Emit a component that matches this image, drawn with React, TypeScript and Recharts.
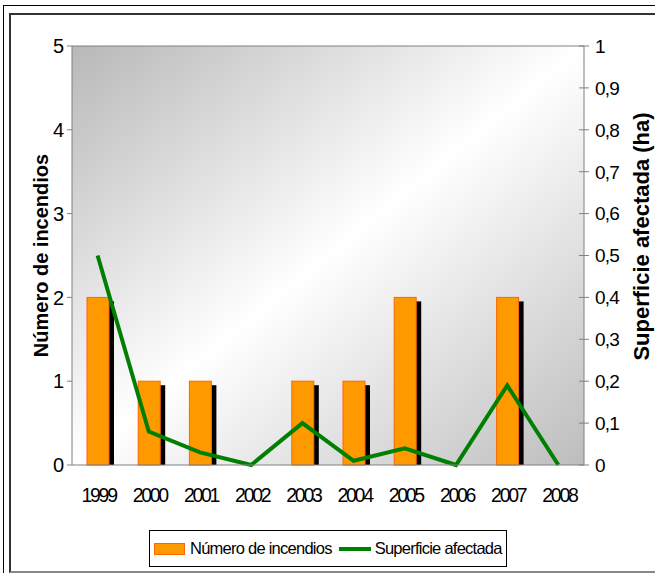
import React from 'react';
import {
  ComposedChart,
  Bar,
  Line,
  XAxis,
  YAxis,
  CartesianGrid,
  Legend,
  ReferenceLine,
} from 'recharts';

const years = ['1999', '2000', '2001', '2002', '2003', '2004', '2005', '2006', '2007', '2008'];
const numeroIncendios = [2, 1, 1, 0, 1, 1, 2, 0, 2, 0];
const superficieAfectada = [0.5, 0.08, 0.03, 0, 0.1, 0.01, 0.04, 0, 0.19, 0];
const leftTicks = [0, 1, 2, 3, 4, 5];
const rightTicks = [0, 0.1, 0.2, 0.3, 0.4, 0.5, 0.6, 0.7, 0.8, 0.9, 1];
const boundaryTicks = years.map((_, i) => i).concat(years.length);

const data = years.map((year, i) => ({
  year,
  numero: numeroIncendios[i],
  superficie: superficieAfectada[i],
}));

const FONT = '"Liberation Sans", Arial, sans-serif';
const AXIS_GRAY = '#808080';

const LeftTick = (props: any) => {
  const { x, y, payload } = props;
  return (
    <text x={x} y={y} dy="0.36em" textAnchor="end" fontSize={20} fontFamily={FONT} fill="#000">
      {payload.value}
    </text>
  );
};

const RightTick = (props: any) => {
  const { x, y, payload } = props;
  const label = String(payload.value).replace('.', ',');
  return (
    <g>
      <line x1={x - 5} x2={x + 5} y1={y} y2={y} stroke={AXIS_GRAY} strokeWidth={1} />
      <text x={x + 11} y={y} dy="0.36em" textAnchor="start" fontSize={19} letterSpacing={-0.8} fontFamily={FONT} fill="#000">
        {label}
      </text>
    </g>
  );
};

const YearTick = (props: any) => {
  const { x, y, payload } = props;
  return (
    <text x={x + 1} y={y + 37} textAnchor="middle" fontSize={19.5} letterSpacing={-2.3} fontFamily={FONT} fill="#000">
      {payload.value}
    </text>
  );
};

const BoundaryTick = (props: any) => {
  const { x, y } = props;
  return <line x1={x} x2={x} y1={y - 5} y2={y + 5} stroke={AXIS_GRAY} strokeWidth={1} />;
};

const ShadowBar = (props: any) => {
  const { x, y, width, height } = props;
  if (!height || height <= 0) return null;
  return (
    <g>
      <rect x={x + 5} y={y + 4} width={width} height={Math.max(0, height - 4)} fill="#000" />
      <rect x={x} y={y} width={width} height={height} fill="#ff9900" stroke="#ff6600" strokeWidth={1} />
    </g>
  );
};

const LeftLabel = (props: any) => {
  const vb = props.viewBox || {};
  const cx = vb.x + 41;
  const cy = vb.y + vb.height / 2;
  return (
    <text
      x={cx}
      y={cy}
      transform={`rotate(-90, ${cx}, ${cy})`}
      textAnchor="middle"
      dy="0.36em"
      fontSize={20}
      fontWeight="bold"
      fontFamily={FONT}
      fill="#000"
    >
      Número de incendios
    </text>
  );
};

const RightLabel = (props: any) => {
  const vb = props.viewBox || {};
  const cx = vb.x + 57;
  const cy = vb.y + vb.height / 2 - 19;
  return (
    <text
      x={cx}
      y={cy}
      transform={`rotate(-90, ${cx}, ${cy})`}
      textAnchor="middle"
      dy="0.36em"
      fontSize={22}
      fontWeight="bold"
      fontFamily={FONT}
      fill="#000"
    >
      Superficie afectada (ha)
    </text>
  );
};

const LegendContent = (props: any) => {
  const payload = props.payload || [];
  return (
    <div
      style={{
        display: 'flex',
        alignItems: 'center',
        height: '100%',
        paddingLeft: 4,
        fontFamily: FONT,
        fontSize: 16.5,
        letterSpacing: -0.75,
        color: '#000',
        whiteSpace: 'nowrap',
      }}
    >
      {payload.map((entry: any, i: number) => (
        <div key={i} style={{ display: 'flex', alignItems: 'center', marginRight: 7 }}>
          {entry.type === 'rect' ? (
            <span
              style={{
                display: 'inline-block',
                width: 29,
                height: 10,
                background: '#ff9900',
                border: '1px solid #ff6600',
                marginRight: 5,
              }}
            />
          ) : (
            <span
              style={{
                display: 'inline-block',
                width: 32,
                height: 4,
                background: '#008000',
                marginRight: 4,
              }}
            />
          )}
          <span>{entry.value}</span>
        </div>
      ))}
    </div>
  );
};

export default function App() {
  return (
    <div
      style={{
        position: 'absolute',
        left: 0,
        top: 0,
        width: 655,
        height: 573,
        overflow: 'hidden',
        background: '#fff',
      }}
    >
      <div
        style={{
          position: 'absolute',
          left: 3,
          top: 5,
          width: 700,
          height: 700,
          border: '1px solid #000',
        }}
      />
      <div
        style={{
          position: 'absolute',
          left: 9,
          top: 13,
          width: 700,
          height: 556,
          borderLeft: '2px solid #333',
          borderTop: '2px solid #333',
          borderBottom: '2px solid #888',
        }}
      />
      <div style={{ position: 'absolute', left: 0, top: 0 }}>
        <ComposedChart
          width={655}
          height={573}
          data={data}
          margin={{ top: 46, right: 0, left: 0, bottom: 78 }}
        >
          <defs>
            <linearGradient id="plotBg" x1="0" y1="0" x2="1" y2="1">
              <stop offset="0%" stopColor="#b8b8b8" />
              <stop offset="50%" stopColor="#ffffff" />
              <stop offset="100%" stopColor="#bdbdbd" />
            </linearGradient>
          </defs>
          <CartesianGrid yAxisId="left" fill="url(#plotBg)" stroke="none" horizontal={false} vertical={false} />
          <XAxis
            xAxisId="b"
            type="number"
            domain={[0, years.length]}
            ticks={boundaryTicks}
            allowDataOverflow
            height={0}
            axisLine={false}
            tickLine={false}
            tickSize={0}
            tickMargin={0}
            tick={<BoundaryTick />}
          />
          <XAxis
            dataKey="year"
            height={30}
            axisLine={{ stroke: AXIS_GRAY }}
            tickLine={false}
            tickSize={0}
            tickMargin={0}
            tick={<YearTick />}
            interval={0}
          />
          <YAxis
            yAxisId="left"
            orientation="left"
            width={72}
            domain={[0, 5]}
            ticks={leftTicks}
            axisLine={{ stroke: AXIS_GRAY }}
            tickLine={{ stroke: AXIS_GRAY }}
            tickSize={5}
            tickMargin={3}
            tick={<LeftTick />}
            interval={0}
            label={<LeftLabel />}
          />
          <YAxis
            yAxisId="right"
            orientation="right"
            width={71}
            domain={[0, 1]}
            ticks={rightTicks}
            axisLine={{ stroke: AXIS_GRAY }}
            tickLine={false}
            tickSize={0}
            tickMargin={0}
            tick={<RightTick />}
            interval={0}
            label={<RightLabel />}
          />
          <ReferenceLine yAxisId="left" y={5} stroke={AXIS_GRAY} />
          <Bar
            yAxisId="left"
            dataKey="numero"
            name="Número de incendios"
            barSize={22}
            fill="#ff9900"
            shape={<ShadowBar />}
            isAnimationActive={false}
          />
          <Line
            yAxisId="right"
            dataKey="superficie"
            name="Superficie afectada"
            stroke="#008000"
            strokeWidth={4}
            dot={false}
            activeDot={false}
            type="linear"
            isAnimationActive={false}
          />
          <Legend
            verticalAlign="middle"
            align="center"
            content={<LegendContent />}
            wrapperStyle={{
              position: 'absolute',
              left: 149,
              top: 530,
              width: 358,
              height: 37,
              border: '1px solid #000',
              boxSizing: 'border-box',
              background: '#fff',
            }}
          />
        </ComposedChart>
      </div>
    </div>
  );
}
